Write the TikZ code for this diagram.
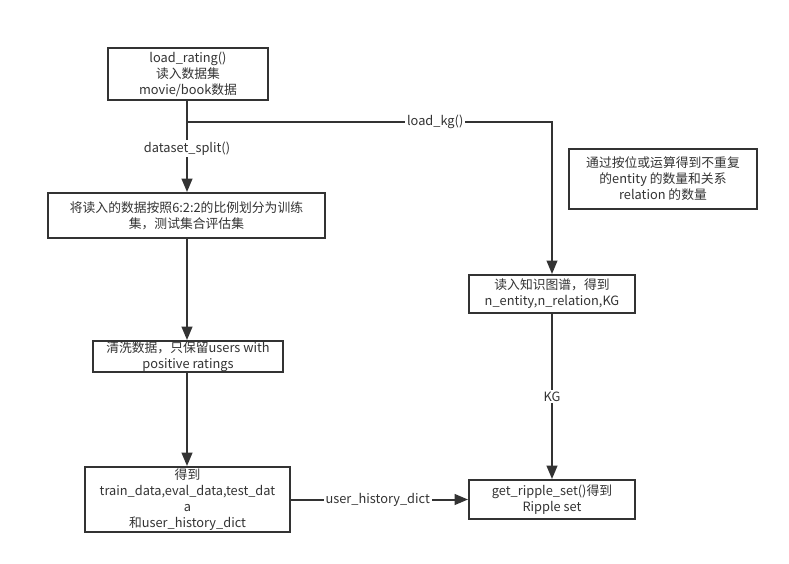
\documentclass[tikz,border=0pt]{standalone}
\usepackage{fontspec}
\setmainfont{Noto Sans CJK SC}
\usetikzlibrary{arrows.meta}
\definecolor{ink}{HTML}{333333}
\begin{document}
\begin{tikzpicture}[x=0.75pt,y=-0.75pt,
  box/.style={draw=ink,line width=1.5pt,inner sep=0pt,align=center,text=ink,font=\fontsize{9.6}{12}\selectfont},
  conn/.style={draw=ink,line width=1.5pt,-{Triangle[length=10pt,width=8pt]}},
  lbl/.style={fill=white,text=ink,font=\fontsize{9.6}{12}\selectfont,inner sep=1.5pt}]
\useasboundingbox (0,0) rectangle (789,564);
\fill[white] (0,0) rectangle (789,564);
\node[box,minimum width=120pt,minimum height=39pt] (load) at (188,74) {load\_rating()\\读入数据集\\movie/book数据};
\node[box,minimum width=207.75pt,minimum height=33.75pt] (split) at (186.5,215.5) {将读入的数据按照6:2:2的比例划分为训练\\集，测试集合评估集};
\node[box,minimum width=142.5pt,minimum height=23.25pt] (clean) at (188,356.5) {清洗数据，只保留users with\\positive ratings};
\node[box,minimum width=153.75pt,minimum height=48.75pt] (res) at (187.5,499.5) {得到\\train\_data,eval\_data,test\_dat\\a\\和user\_history\_dict};
\node[box,minimum width=124.5pt,minimum height=28.5pt] (kg) at (552,294) {读入知识图谱，得到\\n\_entity,n\_relation,KG};
\node[box,minimum width=124.5pt,minimum height=29.25pt] (rip) at (552,499.5) {get\_ripple\_set()得到\\Ripple set};
\node[box,minimum width=141pt,minimum height=45pt] (note) at (663,179) {通过按位或运算得到不重复\\的entity 的数量和关系\\relation 的数量};
\coordinate (br) at (187,122);
\draw[conn] (load.south -| br) -- node[lbl,pos=0.52]{dataset\_split()} (split.north -| br);
\draw[draw=ink,line width=1.2pt,-{Triangle[length=10pt,width=8pt]}] (br) -- node[lbl,pos=0.68]{load\_kg()} (br -| kg.north) -- (kg.north);
\draw[conn] (split.south -| br) -- (clean.north -| br);
\draw[conn] (clean.south -| br) -- (res.north -| br);
\draw[conn] (kg.south) -- node[lbl,pos=0.5]{KG} (rip.north);
\draw[conn] (res.east) -- node[lbl,pos=0.49]{user\_history\_dict} (rip.west);
\end{tikzpicture}
\end{document}
